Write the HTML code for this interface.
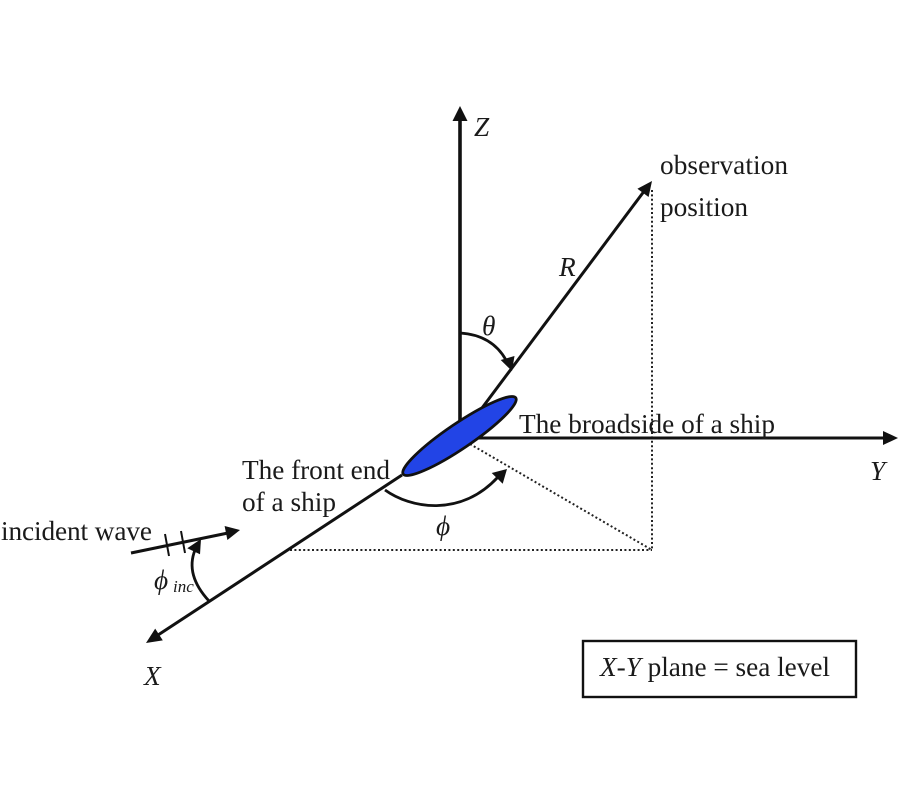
<!DOCTYPE html>
<html><head><meta charset="utf-8"><style>
html,body{margin:0;padding:0;background:#fff}
svg{display:block}
text{font-family:"Liberation Serif",serif;fill:#1a1a1a;font-size:27.3px}
.i{font-style:italic}
</style></head><body>
<svg width="900" height="800" viewBox="0 0 900 800" xmlns="http://www.w3.org/2000/svg">
<g stroke="#222" stroke-width="2" fill="none" stroke-dasharray="2 2.4">
<line x1="652" y1="190" x2="652" y2="550"/>
<line x1="290" y1="550" x2="652" y2="550"/>
<line x1="470" y1="444" x2="652" y2="550"/>
</g>
<g stroke="#111" stroke-width="3" fill="none">
<line x1="460" y1="425" x2="460" y2="115" stroke-width="3.6"/>
<line x1="470" y1="438" x2="886" y2="438"/>
<line x1="482" y1="408" x2="645" y2="190"/>
<line x1="402" y1="475" x2="155" y2="637"/>
<line x1="131" y1="553" x2="228" y2="533"/>
<line x1="165" y1="534" x2="169" y2="556" stroke-width="2"/>
<line x1="181" y1="531" x2="185" y2="553" stroke-width="2"/>
<path d="M460 333Q492 335 506 360" stroke-width="2.8"/>
<path d="M385 490C410 508 460 518 498 477" stroke-width="2.8"/>
<path d="M209 601Q185 575 195 550" stroke-width="2.8"/>
</g>
<g fill="#111">
<polygon points="460,106 452.5,121 467.5,121"/>
<polygon points="898,438 883,431 883,445"/>
<polygon points="652,181 648.6,197 637.4,188.8"/>
<polygon points="146,643 162.8,640.4 155.2,628.6"/>
<polygon points="240,530 227.4,540 224.6,526"/>
<polygon points="512,371 500.7,360 514.5,356"/>
<polygon points="507,469 491.7,473 502.7,483.7"/>
<polygon points="201,539 187.3,548.3 200,554.3"/>
</g>
<ellipse cx="459.5" cy="436" rx="68" ry="12.5" transform="rotate(-34.1 459.5 436)" fill="#2244e6" stroke="#111" stroke-width="2.8"/>
<text x="474" y="136" class="i">Z</text>
<text x="660" y="174" textLength="128">observation</text>
<text x="660" y="216" textLength="88">position</text>
<text x="559" y="276" class="i">R</text>
<text x="482" y="335" class="i">θ</text>
<text x="519" y="433" textLength="256">The broadside of a ship</text>
<text x="870" y="480" class="i">Y</text>
<text x="242" y="479" textLength="148">The front end</text>
<text x="242" y="511" textLength="94">of a ship</text>
<text x="1" y="540" textLength="151">incident wave</text>
<text x="436" y="535" class="i">ϕ</text>
<text x="154" y="589" class="i">ϕ</text>
<text x="173" y="592" class="i" style="font-size:17px">inc</text>
<text x="144" y="685" class="i">X</text>
<rect x="583" y="641" width="273" height="56" fill="#fff" stroke="#111" stroke-width="2.4"/>
<text x="600" y="676" textLength="230"><tspan class="i">X-Y</tspan> plane = sea level</text>
</svg>
</body></html>
